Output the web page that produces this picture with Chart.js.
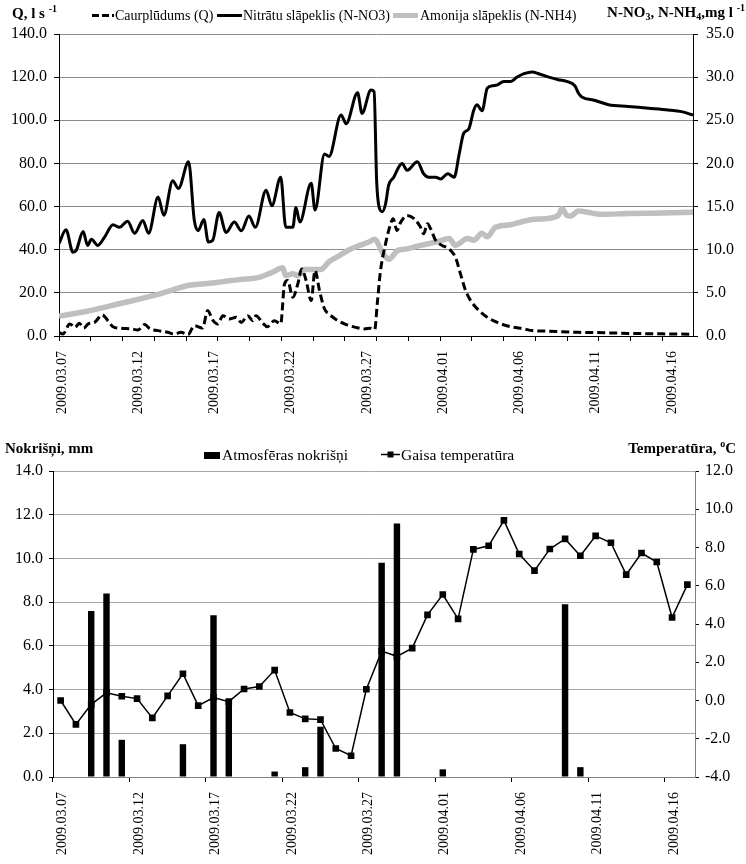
<!DOCTYPE html>
<html><head><meta charset="utf-8">
<script src="https://cdn.jsdelivr.net/npm/chart.js@4.4.0/dist/chart.umd.min.js"></script>
<style>
html,body{margin:0;padding:0;background:#fff;}
body{width:746px;height:864px;position:relative;overflow:hidden;font-family:'Liberation Serif','Times New Roman',serif;color:#000;}
canvas{position:absolute;left:0;}
#c1{top:0;}
#c2{top:425px;}
.t{position:absolute;white-space:nowrap;line-height:1;}
.b{font-weight:bold;font-size:15px;}
.lg{font-size:14px;}
.lg2{font-size:15.5px;}
.t sup{font-size:10px;vertical-align:6px;line-height:0;}
.t sub{font-size:10px;vertical-align:-3px;line-height:0;}
.s{position:absolute;}
</style></head>
<body>
<canvas id="c1" width="746" height="425"></canvas>
<canvas id="c2" width="746" height="439"></canvas>

<div class="t b" style="left:12px;top:6px">Q, l s <sup>-1</sup></div>
<svg class="s" style="left:92px;top:12px" width="22" height="7"><line x1="0" y1="3.5" x2="22" y2="3.5" stroke="#000" stroke-width="3" stroke-dasharray="7,3"/></svg>
<div class="t lg" style="left:115px;top:9px">Caurplūdums (Q)</div>
<svg class="s" style="left:217px;top:12px" width="25" height="7"><line x1="0" y1="3.5" x2="25" y2="3.5" stroke="#000" stroke-width="3"/></svg>
<div class="t lg" style="left:243px;top:9px">Nitrātu slāpeklis (N-NO3)</div>
<svg class="s" style="left:393px;top:12px" width="25" height="7"><line x1="0" y1="3.5" x2="25" y2="3.5" stroke="#bfbfbf" stroke-width="5"/></svg>
<div class="t lg" style="left:420px;top:9px">Amonija slāpeklis (N-NH4)</div>
<div class="t b" style="right:1px;top:5px">N-NO<sub>3</sub>, N-NH<sub>4</sub>,mg l <sup>-1</sup></div>

<div class="t b" style="left:5px;top:441px">Nokrišņi, mm</div>
<div class="s" style="left:204px;top:452px;width:16px;height:7px;background:#000"></div>
<div class="t lg2" style="left:222px;top:447px">Atmosfēras nokrišņi</div>
<svg class="s" style="left:381px;top:450px" width="19" height="9"><line x1="0" y1="4.5" x2="19" y2="4.5" stroke="#000" stroke-width="1.5"/><rect x="6.5" y="1.5" width="6" height="6" fill="#000"/></svg>
<div class="t lg2" style="left:401px;top:447px">Gaisa temperatūra</div>
<div class="t b" style="right:10px;top:441px">Temperatūra, <sup>o</sup>C</div>

<script>
// ---------- Top chart data (x = hours since 2009.03.07 00:00) ----------
const qHours = [0,6,17,25,32,39,46,56,68,77,85,98,114,124,135,143,156,171,182,192,203,213,226,234,242,250,258,268,279,287,297,305,310,321,328,339,349,355,360,368,376,382,389,397,403,410,418,425,439,452,467,481,490,497,501,506,514,520,526,532,538,548,559,569,574,580,585,593,603,614,624,632,640,648,661,674,690,711,732,745,765,792,818,844,870,896,923,949,975,998];
const qValues = [1.7,0.9,5.6,4.0,5.9,3.7,5.6,6.3,9.8,7.1,4.3,3.6,3.3,2.8,5.3,3.3,2.5,1.7,0.9,1.7,0.6,4.8,3.7,11.8,7.4,5.6,9.4,7.9,8.7,6.3,9.4,7.1,9.4,5.9,4.3,7.1,5.6,24.2,25.7,18.0,24.2,31.1,25.7,16.4,30.4,21.1,12.5,10.2,7.1,5.3,4.0,3.3,3.6,3.0,15.0,30.0,42.7,50.0,54.4,48.9,52.8,55.9,54.4,50.5,47.4,52.0,49.7,44.3,42.0,40.4,36.5,28.8,21.1,16.4,11.8,8.7,6.3,4.3,3.3,2.5,2.3,2.0,1.7,1.6,1.4,1.2,1.1,1.0,0.9,0.8];

const no3Hours = [0,11,22,27,38,45,51,61,72,85,95,108,119,132,141,156,165,179,188,204,213,219,228,235,242,252,263,276,287,299,309,326,335,349,357,368,373,379,397,403,418,425,444,452,470,477,491,496,500,504,509,514,519,527,535,540,548,564,574,582,593,601,612,622,630,637,645,653,658,666,674,682,690,700,711,721,732,745,755,771,786,799,812,818,823,844,865,896,928,959,980,998];
const no3Values = [10.7,12.3,9.7,9.9,12.1,10.5,11.2,10.5,11.5,12.9,12.6,13.3,11.9,13.4,11.9,16.1,14.0,18.0,17.1,20.2,13.4,12.2,13.5,10.9,11.1,14.3,12.0,13.2,12.2,13.9,12.6,16.9,15.1,18.4,12.6,12.6,14.9,13.2,17.7,14.6,21.1,20.8,25.6,24.6,28.2,25.8,28.5,28.3,18.0,14.9,14.4,15.3,17.5,18.4,19.6,20.0,19.2,20.2,18.8,18.4,18.4,18.2,18.8,18.4,21.1,23.5,24.0,26.2,26.8,26.1,28.7,29.0,29.1,29.5,29.5,30.0,30.4,30.6,30.4,30.0,29.7,29.5,29.0,28.1,27.7,27.3,26.8,26.6,26.4,26.2,26.0,25.6];

const nh4Hours = [0,46,98,150,177,203,219,248,268,294,315,336,352,357,368,376,386,399,412,425,441,457,473,488,497,509,519,533,548,569,595,614,624,643,653,666,674,687,711,732,745,765,786,792,799,805,818,828,855,896,949,998];
const nh4Values = [2.3,2.9,3.8,4.7,5.3,5.85,6.0,6.2,6.4,6.6,6.8,7.4,7.9,7.0,7.2,7.0,7.7,7.7,7.7,8.6,9.3,10.0,10.5,10.9,11.2,9.7,8.9,9.9,10.1,10.5,10.9,11.3,10.5,11.3,11.1,11.9,11.5,12.6,12.9,13.3,13.5,13.6,14.0,14.75,14.0,13.9,14.5,14.4,14.1,14.2,14.25,14.35];

const topDateLabels = ['2009.03.07','2009.03.12','2009.03.17','2009.03.22','2009.03.27','2009.04.01','2009.04.06','2009.04.11','2009.04.16'];
const labelEveryHours = 120;
const tickEveryHours = 50;
const lastHour = 998;

// ---------- Bottom chart data ----------
const days = ['2009.03.07','2009.03.08','2009.03.09','2009.03.10','2009.03.11','2009.03.12','2009.03.13','2009.03.14','2009.03.15','2009.03.16','2009.03.17','2009.03.18','2009.03.19','2009.03.20','2009.03.21','2009.03.22','2009.03.23','2009.03.24','2009.03.25','2009.03.26','2009.03.27','2009.03.28','2009.03.29','2009.03.30','2009.03.31','2009.04.01','2009.04.02','2009.04.03','2009.04.04','2009.04.05','2009.04.06','2009.04.07','2009.04.08','2009.04.09','2009.04.10','2009.04.11','2009.04.12','2009.04.13','2009.04.14','2009.04.15','2009.04.16','2009.04.17'];
const precipitation = [0,0,7.6,8.4,1.7,0,0,0,1.5,0,7.4,3.4,0,0,0.25,0,0.45,2.3,0,0,0,9.8,11.6,0,0,0.35,0,0,0,0,0,0,0,7.9,0.45,0,0,0,0,0,0,0];
const airTemperature = [0.0,-1.25,-0.2,0.4,0.22,0.1,-0.91,0.24,1.4,-0.27,0.15,-0.06,0.6,0.73,1.59,-0.63,-0.96,-1.0,-2.51,-2.89,0.59,2.58,2.31,2.74,4.48,5.54,4.27,7.9,8.09,9.42,7.66,6.79,7.92,8.45,7.57,8.61,8.25,6.58,7.71,7.24,4.34,6.06];

Chart.defaults.font.family = "'Liberation Serif','Times New Roman',serif";
Chart.defaults.font.size = 16;
Chart.defaults.color = '#000';

const pts = (xs, ys) => xs.map((x, i) => ({x: x, y: ys[i]}));
const fmt1 = v => Number(v).toFixed(1);
const clear = 'rgba(0,0,0,0)';

new Chart(document.getElementById('c1'), {
  type: 'line',
  data: {datasets: [
    {label: 'Caurplūdums (Q)', data: pts(qHours, qValues), yAxisID: 'y', borderColor: '#000', borderWidth: 3, borderDash: [8, 4], pointRadius: 0, cubicInterpolationMode: 'monotone', fill: false},
    {label: 'Nitrātu slāpeklis (N-NO3)', data: pts(no3Hours, no3Values), yAxisID: 'y2', borderColor: '#000', borderWidth: 3, pointRadius: 0, cubicInterpolationMode: 'monotone', fill: false},
    {label: 'Amonija slāpeklis (N-NH4)', data: pts(nh4Hours, nh4Values), yAxisID: 'y2', borderColor: '#bfbfbf', borderWidth: 5.5, pointRadius: 0, cubicInterpolationMode: 'monotone', fill: false}
  ]},
  options: {
    responsive: false, animation: false, devicePixelRatio: 1,
    layout: {padding: {top: 34, left: 0, right: 0, bottom: 0}},
    plugins: {legend: {display: false}, tooltip: {enabled: false}},
    scales: {
      x: {
        type: 'linear', min: 0, max: lastHour,
        afterBuildTicks: s => {
          const set = new Set();
          for (let v = 0; v <= lastHour; v += tickEveryHours) set.add(v);
          topDateLabels.forEach((_, i) => set.add(i * labelEveryHours));
          s.ticks = [...set].sort((a, b) => a - b).map(v => ({value: v}));
        },
        afterFit: s => { s.height = 89; },
        ticks: {autoSkip: false, maxRotation: 90, minRotation: 90, padding: 10, labelOffset: 3, font: {size: 14},
          callback: v => (v % labelEveryHours === 0) ? topDateLabels[v / labelEveryHours] : ''},
        grid: {drawOnChartArea: false, tickLength: 5, color: c => (c.tick && c.tick.value % tickEveryHours === 0) ? '#000' : clear},
        border: {color: '#000', width: 1}
      },
      y: {
        position: 'left', min: 0, max: 140,
        ticks: {stepSize: 20, callback: fmt1, padding: 7},
        grid: {color: '#8c8c8c', tickColor: '#000', tickLength: 5},
        border: {color: '#000'},
        afterFit: s => { s.width = 59; }
      },
      y2: {
        position: 'right', min: 0, max: 35,
        ticks: {stepSize: 5, callback: fmt1, padding: 8},
        grid: {drawOnChartArea: false, tickColor: '#000', tickLength: 5},
        border: {color: '#000'},
        afterFit: s => { s.width = 53; }
      }
    }
  }
});

new Chart(document.getElementById('c2'), {
  type: 'bar',
  data: {labels: days, datasets: [
    {type: 'bar', label: 'Atmosfēras nokrišņi', data: precipitation, yAxisID: 'y', backgroundColor: '#000', barPercentage: 0.42, categoryPercentage: 1},
    {type: 'line', label: 'Gaisa temperatūra', data: airTemperature, yAxisID: 'y2', borderColor: '#000', borderWidth: 1.5, pointStyle: 'rect', pointRadius: 4.7, pointBackgroundColor: '#000', pointBorderColor: '#000', pointBorderWidth: 0, tension: 0, fill: false}
  ]},
  options: {
    responsive: false, animation: false, devicePixelRatio: 1,
    layout: {padding: {top: 46, left: 0, right: 0, bottom: 0}},
    plugins: {legend: {display: false}, tooltip: {enabled: false}},
    scales: {
      x: {
        ticks: {autoSkip: false, maxRotation: 90, minRotation: 90, padding: 10, labelOffset: 2, font: {size: 14},
          callback: (v, i) => (i % 5 === 0) ? days[i] : ''},
        grid: {drawOnChartArea: false, offset: true, tickLength: 5, color: c => (c.index % 5 === 0) ? '#000' : clear},
        border: {color: '#808080'},
        afterFit: s => { s.height = 87; }
      },
      y: {
        position: 'left', min: 0, max: 14,
        ticks: {stepSize: 2, callback: fmt1, padding: 6},
        grid: {color: '#a6a6a6', tickColor: '#000', tickLength: 4},
        border: {color: '#000'},
        afterFit: s => { s.width = 53; }
      },
      y2: {
        position: 'right', min: -4, max: 12,
        ticks: {stepSize: 2, callback: fmt1, padding: 6},
        grid: {drawOnChartArea: false, tickColor: '#000', tickLength: 4},
        border: {color: '#808080'},
        afterFit: s => { s.width = 51; }
      }
    }
  }
});
</script>
</body></html>
